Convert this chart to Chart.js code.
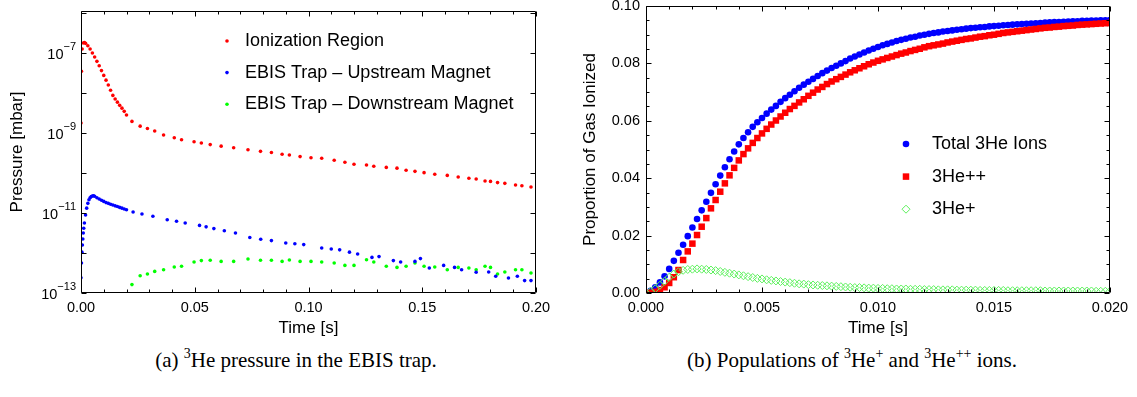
<!DOCTYPE html>
<html>
<head>
<meta charset="utf-8">
<script src="https://cdn.jsdelivr.net/npm/chart.js@4.4.1/dist/chart.umd.min.js"></script>
<style>
  html, body { margin: 0; padding: 0; background: #fff; }
  #wrap { position: relative; width: 1137px; height: 397px; overflow: hidden; background: #fff; }
  canvas { position: absolute; top: 0; }
  .cap { position: absolute; font-family: "Liberation Serif", "Times New Roman", serif; font-size: 21px; color: #000; white-space: nowrap; transform: translateX(-50%); }
  .cap sup { font-size: 14px; vertical-align: 0; position: relative; top: -9px; }
</style>
</head>
<body>
<div id="wrap">
  <canvas id="left" width="560" height="345" style="left:0"></canvas>
  <canvas id="right" width="577" height="345" style="left:560px"></canvas>
  <div class="cap" style="left:296px; top:348px">(a) <sup>3</sup>He pressure in the EBIS trap.</div>
  <div class="cap" style="left:852px; top:348px">(b) Populations of <sup>3</sup>He<sup>+</sup> and <sup>3</sup>He<sup>++</sup> ions.</div>
</div>
<script>
// ---------------- Panel (a) data: pressure vs time ----------------
const ionTime = [0, 0.0002, 0.0005, 0.001, 0.0015, 0.002, 0.003, 0.004, 0.005, 0.006, 0.007, 0.008, 0.009, 0.010, 0.011, 0.012, 0.013, 0.014, 0.015, 0.016, 0.017, 0.018, 0.019, 0.020,
  0.0224, 0.026, 0.0292, 0.0324, 0.0363, 0.041, 0.0442, 0.0497, 0.0529, 0.0568, 0.0616, 0.0671, 0.0734, 0.0789, 0.0837, 0.0884, 0.0916, 0.0963, 0.1011, 0.1058,
  0.1113, 0.116, 0.12, 0.1255, 0.1287, 0.1342, 0.1389, 0.1429, 0.1468, 0.1508, 0.1555, 0.161, 0.1658, 0.1705, 0.1737, 0.1776, 0.18, 0.1831, 0.1863, 0.191, 0.1938, 0.1978];
const ionPressure = [1.78e-9, 3.47e-8, 1.26e-7, 1.78e-7, 1.82e-7, 1.74e-7, 1.51e-7, 1.26e-7, 1.00e-7, 7.94e-8, 6.17e-8, 4.79e-8, 3.63e-8, 2.75e-8, 2.09e-8, 1.58e-8, 1.17e-8, 8.71e-9, 7.08e-9, 5.89e-9, 4.90e-9, 4.17e-9, 3.47e-9, 2.82e-9,
  1.95e-9, 1.48e-9, 1.29e-9, 1.12e-9, 8.91e-10, 7.59e-10, 6.76e-10, 6.03e-10, 5.62e-10, 5.13e-10, 4.68e-10, 4.27e-10, 3.80e-10, 3.47e-10, 3.24e-10, 2.95e-10, 2.82e-10, 2.57e-10, 2.40e-10, 2.34e-10,
  2.09e-10, 1.86e-10, 1.66e-10, 1.58e-10, 1.48e-10, 1.38e-10, 1.32e-10, 1.17e-10, 1.10e-10, 1.02e-10, 9.33e-11, 8.71e-11, 7.94e-11, 7.41e-11, 7.08e-11, 6.31e-11, 6.17e-11, 5.75e-11, 5.50e-11, 5.01e-11, 4.79e-11, 4.47e-11];

const upTime = [0, 0.0002, 0.0004, 0.0006, 0.0008, 0.001, 0.0012, 0.0015, 0.002, 0.0025, 0.003, 0.0035, 0.004, 0.0045, 0.005, 0.0055, 0.006, 0.007, 0.008, 0.009, 0.010, 0.011, 0.012, 0.013, 0.014, 0.015, 0.016, 0.017, 0.018, 0.019, 0.020,
  0.0229, 0.0268, 0.0316, 0.0379, 0.0420, 0.0458, 0.0521, 0.0550, 0.0584, 0.0630, 0.0679, 0.0742, 0.0790, 0.0837, 0.0900, 0.0940, 0.0979, 0.1058, 0.1100, 0.1137, 0.1180, 0.1216,
  0.1279, 0.1310, 0.1373, 0.1405, 0.1468, 0.1492, 0.1531, 0.1594, 0.1642, 0.1673, 0.1737, 0.1792, 0.1823, 0.1879, 0.1918, 0.1950, 0.1978];
const upPressure = [2.4e-13, 5.6e-13, 1.05e-12, 1.58e-12, 2.24e-12, 3.16e-12, 4.17e-12, 5.62e-12, 8.91e-12, 1.32e-11, 1.74e-11, 2.14e-11, 2.40e-11, 2.57e-11, 2.66e-11, 2.69e-11, 2.63e-11, 2.40e-11, 2.24e-11, 2.09e-11, 1.95e-11, 1.82e-11, 1.74e-11, 1.66e-11, 1.58e-11, 1.51e-11, 1.45e-11, 1.38e-11, 1.32e-11, 1.26e-11, 1.20e-11,
  1.06e-11, 9.44e-12, 8.32e-12, 6.76e-12, 6.20e-12, 5.62e-12, 4.90e-12, 4.50e-12, 4.07e-12, 3.60e-12, 3.16e-12, 2.45e-12, 2.20e-12, 2.04e-12, 1.78e-12, 1.70e-12, 1.62e-12, 1.33e-12, 1.26e-12, 1.20e-12, 1.05e-12, 9.44e-13,
  7.76e-13, 8.13e-13, 6.46e-13, 5.96e-13, 6.17e-13, 7.24e-13, 4.22e-13, 4.90e-13, 4.37e-13, 3.80e-13, 3.31e-13, 3.35e-13, 2.63e-13, 2.37e-13, 2.63e-13, 2.04e-13, 2.04e-13];

const downTime = [0.0224, 0.026, 0.0292, 0.0324, 0.0363, 0.041, 0.0442, 0.0497, 0.0529, 0.0568, 0.0616, 0.0671, 0.0734, 0.0789, 0.0837, 0.0884, 0.0916, 0.0963, 0.1011, 0.1058,
  0.1113, 0.116, 0.12, 0.1255, 0.1287, 0.1342, 0.1389, 0.1429, 0.1468, 0.1508, 0.1555, 0.161, 0.1658, 0.1705, 0.1737, 0.1776, 0.18, 0.1831, 0.1863, 0.191, 0.1938, 0.1978];
const downPressure = [1.62e-13, 2.69e-13, 2.99e-13, 3.47e-13, 3.80e-13, 4.47e-13, 4.68e-13, 5.96e-13, 6.46e-13, 6.61e-13, 6.17e-13, 6.17e-13, 7.08e-13, 6.61e-13, 6.61e-13, 6.17e-13, 6.68e-13, 6.17e-13, 6.17e-13, 5.96e-13,
  5.62e-13, 4.90e-13, 4.90e-13, 6.76e-13, 5.96e-13, 4.68e-13, 4.37e-13, 4.68e-13, 5.62e-13, 4.68e-13, 4.47e-13, 3.80e-13, 4.37e-13, 4.22e-13, 3.80e-13, 4.68e-13, 4.37e-13, 2.99e-13, 3.35e-13, 3.80e-13, 3.80e-13, 3.16e-13];

const legendA = ['Ionization Region', 'EBIS Trap \u2013 Upstream Magnet', 'EBIS Trap \u2013 Downstream Magnet'];
const xTicksA = [0, 0.05, 0.10, 0.15, 0.20];
const xTickLabelsA = ['0.00', '0.05', '0.10', '0.15', '0.20'];
const xMinorA = [0.01, 0.02, 0.03, 0.04, 0.06, 0.07, 0.08, 0.09, 0.11, 0.12, 0.13, 0.14, 0.16, 0.17, 0.18, 0.19];
const yTicksA = [1e-13, 1e-11, 1e-9, 1e-7];
const yTickExpA = ['\u221213', '\u221211', '\u22129', '\u22127'];
const yMinorA = [1e-12, 1e-10, 1e-8, 1e-6];

// ---------------- Panel (b) data: ion populations vs time ----------------
const tB = [0, 0.0002, 0.0004, 0.0006, 0.0008, 0.0010, 0.0012, 0.0014, 0.0016, 0.0018, 0.0020, 0.0022, 0.0024, 0.0026, 0.0028, 0.0030, 0.0032, 0.0034, 0.0036, 0.0038,
  0.0040, 0.0042, 0.0044, 0.0046, 0.0048, 0.0050, 0.0052, 0.0054, 0.0056, 0.0058, 0.0060, 0.0062, 0.0064, 0.0066, 0.0068, 0.0070, 0.0072, 0.0074, 0.0076, 0.0078,
  0.0080, 0.0082, 0.0084, 0.0086, 0.0088, 0.0090, 0.0092, 0.0094, 0.0096, 0.0098, 0.0100, 0.0102, 0.0104, 0.0106, 0.0108, 0.0110, 0.0112, 0.0114, 0.0116, 0.0118,
  0.0120, 0.0122, 0.0124, 0.0126, 0.0128, 0.0130, 0.0132, 0.0134, 0.0136, 0.0138, 0.0140, 0.0142, 0.0144, 0.0146, 0.0148, 0.0150, 0.0152, 0.0154, 0.0156, 0.0158,
  0.0160, 0.0162, 0.0164, 0.0166, 0.0168, 0.0170, 0.0172, 0.0174, 0.0176, 0.0178, 0.0180, 0.0182, 0.0184, 0.0186, 0.0188, 0.0190, 0.0192, 0.0194, 0.0196, 0.0198, 0.0200];
const totalIons = [0.0000, 0.0008, 0.0020, 0.0037, 0.0058, 0.0084, 0.0112, 0.0140, 0.0168, 0.0198, 0.0228, 0.0258, 0.0288, 0.0318, 0.0349, 0.0379, 0.0409, 0.0438, 0.0466, 0.0493,
  0.0518, 0.0540, 0.0560, 0.0579, 0.0595, 0.0610, 0.0625, 0.0639, 0.0652, 0.0666, 0.0679, 0.0691, 0.0703, 0.0715, 0.0726, 0.0736, 0.0746, 0.0756, 0.0766, 0.0775,
  0.0784, 0.0792, 0.0800, 0.0808, 0.0817, 0.0824, 0.0831, 0.0838, 0.0845, 0.0851, 0.0857, 0.0863, 0.0868, 0.0873, 0.0878, 0.0882, 0.0886, 0.0890, 0.0893, 0.0897,
  0.0900, 0.0903, 0.0906, 0.0908, 0.0911, 0.0913, 0.0915, 0.0917, 0.0919, 0.0921, 0.0923, 0.0924, 0.0926, 0.0927, 0.0929, 0.0930, 0.0931, 0.0933, 0.0934, 0.0935,
  0.0936, 0.0937, 0.0938, 0.0939, 0.0940, 0.0941, 0.0942, 0.0943, 0.0944, 0.0944, 0.0945, 0.0946, 0.0947, 0.0947, 0.0948, 0.0948, 0.0949, 0.0949, 0.0950, 0.0950, 0.0951];
const heDouble = [0.0000, 0.0001, 0.0004, 0.0010, 0.0020, 0.0035, 0.0055, 0.0080, 0.0115, 0.0145, 0.0172, 0.0202, 0.0231, 0.0261, 0.0295, 0.0324, 0.0353, 0.0382, 0.0410, 0.0436,
  0.0462, 0.0484, 0.0504, 0.0523, 0.0540, 0.0556, 0.0572, 0.0587, 0.0601, 0.0615, 0.0628, 0.0641, 0.0652, 0.0664, 0.0675, 0.0687, 0.0698, 0.0709, 0.0718, 0.0728,
  0.0737, 0.0745, 0.0753, 0.0761, 0.0769, 0.0776, 0.0783, 0.0790, 0.0797, 0.0803, 0.0809, 0.0814, 0.0819, 0.0824, 0.0829, 0.0834, 0.0838, 0.0843, 0.0847, 0.0851,
  0.0856, 0.0860, 0.0863, 0.0866, 0.0869, 0.0873, 0.0876, 0.0879, 0.0882, 0.0885, 0.0887, 0.0890, 0.0893, 0.0895, 0.0898, 0.0900, 0.0903, 0.0906, 0.0908, 0.0910,
  0.0912, 0.0914, 0.0916, 0.0918, 0.0920, 0.0922, 0.0924, 0.0925, 0.0927, 0.0928, 0.0930, 0.0931, 0.0932, 0.0934, 0.0935, 0.0936, 0.0937, 0.0938, 0.0939, 0.0940, 0.0941];
const heSingle = [0.0000, 0.0006, 0.0015, 0.0027, 0.0041, 0.0055, 0.0066, 0.0074, 0.0079, 0.0082, 0.0083, 0.0084, 0.0083, 0.0082, 0.0080, 0.0078, 0.0075, 0.0072, 0.0069, 0.0066,
  0.0063, 0.0060, 0.0057, 0.0054, 0.0051, 0.0049, 0.0046, 0.0044, 0.0042, 0.0040, 0.0038, 0.0036, 0.0034, 0.0032, 0.0031, 0.0029, 0.0028, 0.0027, 0.0026, 0.0025,
  0.0024, 0.0023, 0.0022, 0.0021, 0.0020, 0.0019, 0.0019, 0.0018, 0.0017, 0.0017, 0.0016, 0.0016, 0.0015, 0.0015, 0.0014, 0.0014, 0.0014, 0.0013, 0.0013, 0.0013,
  0.0012, 0.0012, 0.0012, 0.0011, 0.0011, 0.0011, 0.0011, 0.0010, 0.0010, 0.0010, 0.0010, 0.0010, 0.0009, 0.0009, 0.0009, 0.0009, 0.0009, 0.0009, 0.0008, 0.0008,
  0.0008, 0.0008, 0.0008, 0.0008, 0.0008, 0.0008, 0.0007, 0.0007, 0.0007, 0.0007, 0.0007, 0.0007, 0.0007, 0.0007, 0.0007, 0.0007, 0.0007, 0.0006, 0.0006, 0.0006, 0.0006];

const legendB = ['Total 3He Ions', '3He++', '3He+'];
const xTicksB = [0, 0.005, 0.010, 0.015, 0.020];
const xTickLabelsB = ['0.000', '0.005', '0.010', '0.015', '0.020'];
const xMinorB = [0.001, 0.002, 0.003, 0.004, 0.006, 0.007, 0.008, 0.009, 0.011, 0.012, 0.013, 0.014, 0.016, 0.017, 0.018, 0.019];
const yTicksB = [0, 0.02, 0.04, 0.06, 0.08, 0.10];
const yTickLabelsB = ['0.00', '0.02', '0.04', '0.06', '0.08', '0.10'];
const yMinorB = [0.005, 0.01, 0.015, 0.025, 0.03, 0.035, 0.045, 0.05, 0.055, 0.065, 0.07, 0.075, 0.085, 0.09, 0.095];

// ---------------- helpers ----------------
const zip = (xs, ys) => xs.map((x, i) => ({ x: x, y: ys[i] }));
const SANS = '"Liberation Sans", Arial, Helvetica, sans-serif';
const FS_TICK = 14.5, FS_TITLE = 17, FS_LEG = 18;

function drawMarker(ctx, ds, x, y) {
  ctx.save();
  ctx.fillStyle = ds.backgroundColor;
  ctx.strokeStyle = ds.borderColor;
  ctx.lineWidth = ds.borderWidth || 0;
  const r = ds.pointRadius;
  ctx.beginPath();
  if (ds.pointStyle === 'rect') {
    const s = Math.SQRT1_2 * r;
    ctx.rect(x - s, y - s, 2 * s, 2 * s);
  } else if (ds.pointStyle === 'rectRot') {
    ctx.moveTo(x, y - r); ctx.lineTo(x + r, y); ctx.lineTo(x, y + r); ctx.lineTo(x - r, y); ctx.closePath();
  } else {
    ctx.arc(x, y, r, 0, Math.PI * 2);
  }
  if (ds.backgroundColor && ds.backgroundColor !== 'transparent') ctx.fill();
  if (ds.borderWidth) ctx.stroke();
  ctx.restore();
}

const framePlugin = {
  id: 'frameAxes',
  afterDraw(chart) {
    const o = chart.options.plugins.frameAxes;
    const { ctx, chartArea: a } = chart;
    const xs = chart.scales.x, ys = chart.scales.y;
    const L = Math.round(a.left) + 0.5, R = Math.round(a.right) - 0.5, T = Math.round(a.top) + 0.5, B = Math.round(a.bottom) - 0.5;
    ctx.save();
    ctx.strokeStyle = '#000';
    ctx.lineWidth = 1;
    ctx.beginPath();
    ctx.rect(L, T, R - L, B - T);
    ctx.stroke();
    const seg = (x1, y1, x2, y2) => { ctx.beginPath(); ctx.moveTo(x1, y1); ctx.lineTo(x2, y2); ctx.stroke(); };
    const xt = (v, len) => { const p = Math.round(xs.getPixelForValue(v)) + 0.5; seg(p, B, p, B - len); seg(p, T, p, T + len); };
    const yt = (v, len) => { const p = Math.round(ys.getPixelForValue(v)) + 0.5; seg(L, p, L + len, p); seg(R, p, R - len, p); };
    o.xMajor.forEach(v => xt(v, 5));
    o.xMinor.forEach(v => xt(v, 3));
    o.yMajor.forEach(v => yt(v, 5));
    o.yMinor.forEach(v => yt(v, o.yMinorLen || 3));

    ctx.fillStyle = '#000';
    ctx.font = FS_TICK + 'px ' + SANS;
    ctx.textBaseline = 'middle';
    ctx.textAlign = 'center';
    o.xMajor.forEach((v, i) => ctx.fillText(o.xLabels[i], xs.getPixelForValue(v), 308));
    if (o.yExp) {
      o.yMajor.forEach((v, i) => {
        const p = ys.getPixelForValue(v);
        const right = a.left - 5;
        ctx.font = '11px ' + SANS;
        const ew = ctx.measureText(o.yExp[i]).width;
        ctx.textAlign = 'right';
        ctx.fillText(o.yExp[i], right, p - 6);
        ctx.font = FS_TICK + 'px ' + SANS;
        ctx.fillText('10', right - ew, p + 2);
      });
    } else {
      ctx.textAlign = 'right';
      o.yMajor.forEach((v, i) => ctx.fillText(o.yLabels[i], a.left - 6, ys.getPixelForValue(v)));
    }
    // axis titles
    ctx.font = FS_TITLE + 'px ' + SANS;
    ctx.textAlign = 'center';
    ctx.fillText(o.xTitle, (a.left + a.right) / 2, 328);
    ctx.save();
    ctx.translate(o.yTitleX, (a.top + a.bottom) / 2);
    ctx.rotate(-Math.PI / 2);
    ctx.fillText(o.yTitle, 0, 0);
    ctx.restore();
    // legend
    ctx.textAlign = 'left';
    chart.data.datasets.forEach((ds, i) => {
      const y = o.legend.y0 + i * o.legend.dy;
      drawMarker(ctx, ds, o.legend.mx, y);
      ctx.fillStyle = '#000';
      ctx.font = FS_LEG + 'px ' + SANS;
      ctx.fillText(o.legend.labels[i], o.legend.tx, y);
    });
    ctx.restore();
  }
};

Chart.register(framePlugin);

// ---------------- Chart (a) ----------------
new Chart(document.getElementById('left'), {
  type: 'scatter',
  data: {
    datasets: [
      { label: legendA[0], data: zip(ionTime, ionPressure), backgroundColor: '#ff0000', borderColor: '#ff0000', borderWidth: 0, pointRadius: 1.8, pointStyle: 'circle' },
      { label: legendA[1], data: zip(upTime, upPressure), backgroundColor: '#0000ff', borderColor: '#0000ff', borderWidth: 0, pointRadius: 1.8, pointStyle: 'circle' },
      { label: legendA[2], data: zip(downTime, downPressure), backgroundColor: '#00ff00', borderColor: '#00ff00', borderWidth: 0, pointRadius: 1.8, pointStyle: 'circle' }
    ]
  },
  options: {
    responsive: false, animation: false, devicePixelRatio: 1,
    layout: { padding: { left: 81, top: 11, right: 24, bottom: 52 } },
    scales: {
      x: { type: 'linear', min: 0, max: 0.2, display: false },
      y: { type: 'logarithmic', min: 1e-13, max: 1.12e-6, display: false }
    },
    plugins: {
      legend: { display: false }, tooltip: { enabled: false },
      frameAxes: {
        xMajor: xTicksA, xLabels: xTickLabelsA, xMinor: xMinorA,
        yMajor: yTicksA, yExp: yTickExpA, yMinor: yMinorA, yMinorLen: 5,
        xTitle: 'Time [s]', yTitle: 'Pressure [mbar]', yTitleX: 17,
        legend: { labels: legendA, mx: 227, tx: 245, y0: 41, dy: 31.6 }
      }
    }
  }
});

// ---------------- Chart (b) ----------------
new Chart(document.getElementById('right'), {
  type: 'scatter',
  data: {
    datasets: [
      { label: legendB[0], data: zip(tB, totalIons), backgroundColor: '#0000ff', borderColor: '#0000ff', borderWidth: 0, pointRadius: 3.3, pointStyle: 'circle', order: 3 },
      { label: legendB[1], data: zip(tB, heDouble), backgroundColor: '#ff0000', borderColor: '#ff0000', borderWidth: 0, pointRadius: 4.6, pointStyle: 'rect', order: 2 },
      { label: legendB[2], data: zip(tB, heSingle), backgroundColor: 'transparent', borderColor: '#5cf05c', borderWidth: 1, pointRadius: 4, pointStyle: 'rectRot', order: 1 }
    ]
  },
  options: {
    responsive: false, animation: false, devicePixelRatio: 1,
    layout: { padding: { left: 86, top: 6, right: 27, bottom: 52 } },
    scales: {
      x: { type: 'linear', min: 0, max: 0.02, display: false },
      y: { type: 'linear', min: 0, max: 0.1, display: false }
    },
    plugins: {
      legend: { display: false }, tooltip: { enabled: false },
      frameAxes: {
        xMajor: xTicksB, xLabels: xTickLabelsB, xMinor: xMinorB,
        yMajor: yTicksB, yLabels: yTickLabelsB, yMinor: yMinorB,
        xTitle: 'Time [s]', yTitle: 'Proportion of Gas Ionized', yTitleX: 30,
        legend: { labels: legendB, mx: 346, tx: 372, y0: 144, dy: 32.6 }
      }
    }
  }
});
</script>
</body>
</html>
